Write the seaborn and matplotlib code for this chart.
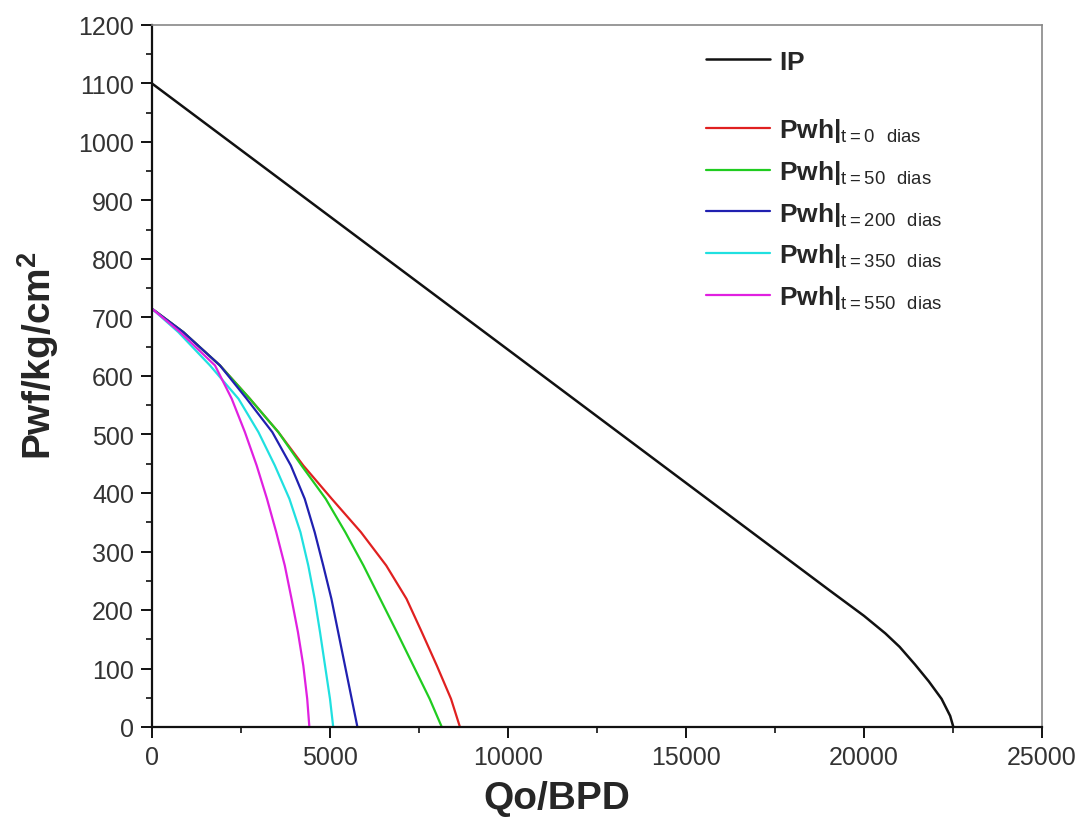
import numpy as np
import pandas as pd
import matplotlib
matplotlib.use("Agg")
import matplotlib.pyplot as plt
from matplotlib.ticker import MultipleLocator
import seaborn as sns

# --- data (Qo in BPD, Pwf in kg/cm2) ---
ip_q = [0, 10000, 19000, 20000, 20600, 21000, 21430, 21820, 22180, 22420, 22510]
ip_p = [1100, 645, 235, 190, 160, 137, 107, 78, 48, 19, 0]

pwh_p = [715, 675, 618, 561, 504, 447, 390, 333, 276, 219, 162, 105, 48, 0]
q_t0 = [0, 880, 1910, 2750, 3550, 4250, 5050, 5870, 6580, 7150, 7580, 8000, 8400, 8650]
q_t50 = [0, 880, 1910, 2750, 3550, 4200, 4880, 5430, 5940, 6410, 6880, 7340, 7800, 8140]
q_t200 = [0, 880, 1910, 2660, 3380, 3900, 4290, 4570, 4810, 5040, 5230, 5420, 5610, 5770]
q_t350 = [0, 740, 1630, 2430, 2990, 3450, 3860, 4170, 4390, 4570, 4720, 4860, 5000, 5090]
q_t550 = [0, 790, 1770, 2240, 2610, 2940, 3230, 3490, 3730, 3920, 4100, 4250, 4360, 4420]

days = ["0", "50", "200", "350", "550"]
colors = ["#e02020", "#20cc20", "#2020b0", "#20e0e0", "#e020e0"]

sns.set_theme(style="ticks")
plt.rcParams['font.family'] = ['Liberation Sans', 'DejaVu Sans']
plt.rcParams['mathtext.fontset'] = 'custom'
plt.rcParams['mathtext.rm'] = 'Liberation Sans'
plt.rcParams['mathtext.bf'] = 'Liberation Sans:bold'

fig = plt.figure(figsize=(10.85, 8.29), dpi=100)
ax = fig.add_axes([152 / 1085, 1 - 728 / 829, 890 / 1085, 702 / 829])

sns.lineplot(x=ip_q, y=ip_p, sort=False, estimator=None, color="#111111", lw=1.8, ax=ax)
for q, d, c in zip([q_t0, q_t50, q_t200, q_t350, q_t550], days, colors):
    sns.lineplot(x=q, y=pwh_p, sort=False, estimator=None, color=c, lw=1.6, ax=ax)

ax.set_xlim(0, 25000)
ax.set_ylim(0, 1200)
ax.xaxis.set_major_locator(MultipleLocator(5000))
ax.xaxis.set_minor_locator(MultipleLocator(2500))
ax.yaxis.set_major_locator(MultipleLocator(100))
ax.yaxis.set_minor_locator(MultipleLocator(50))
ax.tick_params(which='major', direction='out', length=8, width=1.4, labelsize=18,
               labelcolor='#333333', color='#111111', pad=5)
ax.tick_params(which='minor', direction='out', length=4, width=1.2, color='#111111')
ax.tick_params(top=False, right=False)

for s in ['left', 'bottom']:
    ax.spines[s].set_color('#111111')
    ax.spines[s].set_linewidth(1.6)
for s in ['top', 'right']:
    ax.spines[s].set_color('#888888')
    ax.spines[s].set_linewidth(1.2)

ax.set_xlabel('Qo/BPD', fontsize=28, fontweight='bold', va='center')
ax.set_ylabel(r'Pwf/kg/cm$^{\mathbf{2}}$', fontsize=28, fontweight='bold',
              va='center', ha='center')
ax.xaxis.set_label_coords((557 - 152) / 890, -(799 - 728) / 702)
ax.yaxis.set_label_coords(-(152 - 38) / 890, (728 - 356) / 702)

lines = ax.get_lines()
leg1 = ax.legend([lines[0]], [r'$\mathbf{IP}$'], loc='upper left',
                 bbox_to_anchor=(0.623, 0.965), frameon=False, fontsize=19,
                 handlelength=2.4, handletextpad=0.35, borderpad=0, borderaxespad=0)
ax.add_artist(leg1)
labels = [r'$\mathbf{Pwh|}_{\mathrm{t=' + d + r'\ \ dias}}$' for d in days]
ax.legend(lines[1:6], labels, loc='upper left', bbox_to_anchor=(0.623, 0.87),
          frameon=False, fontsize=19, handlelength=2.4, handletextpad=0.35,
          labelspacing=0.52, borderpad=0, borderaxespad=0)

fig.savefig('out.png', dpi=100)
